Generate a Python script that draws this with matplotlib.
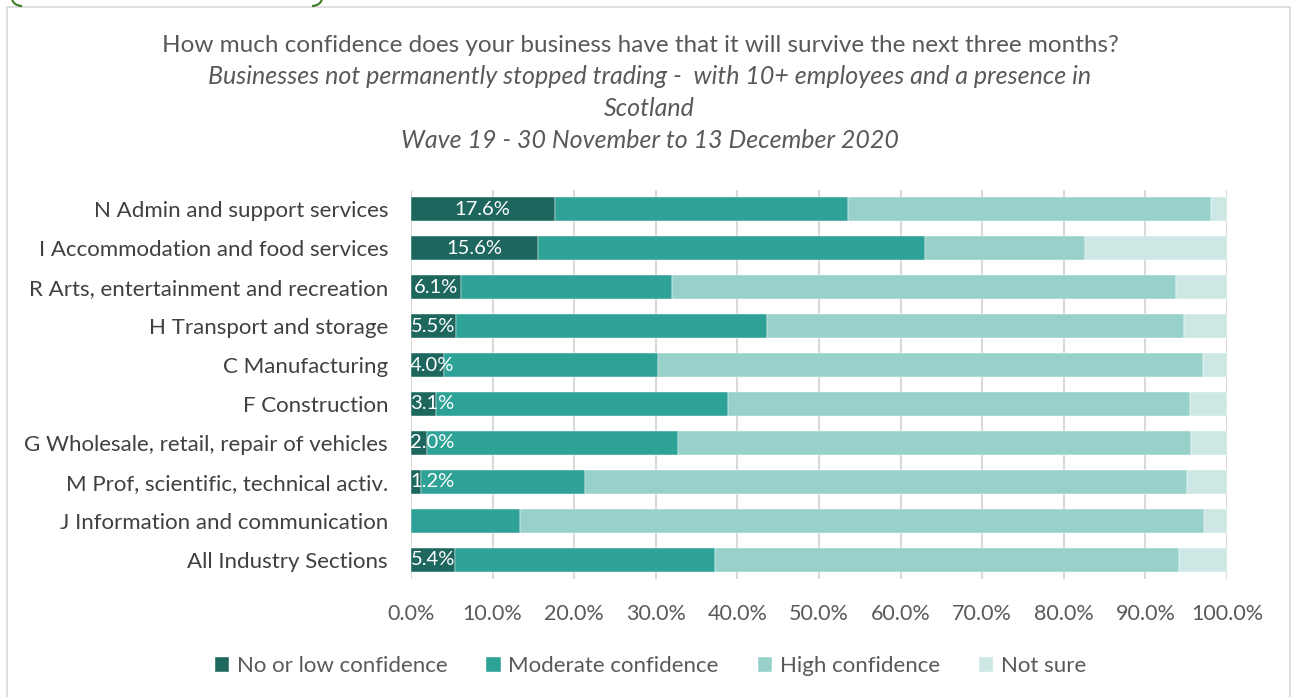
import matplotlib
matplotlib.use("Agg")
import matplotlib.pyplot as plt
from matplotlib.patches import Rectangle, Arc
import numpy as np

categories = [
    "N Admin and support services",
    "I Accommodation and food services",
    "R Arts, entertainment and recreation",
    "H Transport and storage",
    "C Manufacturing",
    "F Construction",
    "G Wholesale, retail, repair of vehicles",
    "M Prof, scientific, technical activ.",
    "J Information and communication",
    "All Industry Sections",
]
series_names = ["No or low confidence", "Moderate confidence", "High confidence", "Not sure"]
no_low   = [17.6, 15.6, 6.1, 5.5, 4.0, 3.1, 2.0, 1.2, 0.0, 5.4]
moderate = [35.9, 47.4, 25.9, 38.1, 26.3, 35.7, 30.7, 20.1, 13.4, 31.8]
high     = [44.5, 19.6, 61.8, 51.1, 66.8, 56.7, 62.9, 73.8, 83.8, 56.9]
not_sure = [2.0, 17.4, 6.2, 5.3, 2.9, 4.5, 4.4, 4.9, 2.8, 5.9]
xticks = [0, 10, 20, 30, 40, 50, 60, 70, 80, 90, 100]

colors = ["#1d675e", "#2ea297", "#97d1ca", "#cde8e4"]
FONT = "Lato"
plt.rcParams['font.family'] = [FONT, 'DejaVu Sans']

fig = plt.figure(figsize=(12.92, 6.97), dpi=100)
ax = fig.add_axes([0.3181, 0.1686, 0.6316, 0.5595])

n = len(categories)
y = np.arange(n)
data = [no_low, moderate, high, not_sure]
left = np.zeros(n)
bars = []
for vals, c, name in zip(data, colors, series_names):
    b = ax.barh(y, vals, left=left, height=0.615, color=c, label=name,
                edgecolor="white", linewidth=0.3, zorder=3)
    bars.append(b)
    left = left + np.array(vals)

# labels for first series
for i, v in enumerate(no_low):
    if v > 0:
        ax.text(max(v / 2, 2.6), y[i], f"{v:.1f}%", ha="center", va="center",
                color="white", fontsize=14.5, zorder=4, clip_on=True)

ax.set_xlim(0, 100)
ax.set_ylim(n - 0.5, -0.5)
ax.set_xticks(xticks)
ax.set_xticklabels([f"{t:.1f}%" for t in xticks], fontsize=15.5, color="#595959")
ax.set_yticks(y)
ax.set_yticklabels(categories, fontsize=16, color="#404040")
ax.tick_params(axis="both", length=0)
ax.tick_params(axis="x", pad=18)
ax.tick_params(axis="y", pad=16.5)
ax.grid(axis="x", color="#d9d9d9", linewidth=1.5, zorder=0)
for s in ax.spines.values():
    s.set_visible(False)

# titles
fig.text(640.5 / 1292, 1 - 45 / 697, "How much confidence does your business have that it will survive the next three months?",
         ha="center", va="center", fontsize=17.5, color="#595959")
xi = 649.5 / 1292
fig.text(xi, 1 - 77 / 697, "Businesses not permanently stopped trading -  with 10+ employees and a presence in",
         ha="center", va="center", fontsize=18, color="#595959", style="italic")
fig.text(xi, 1 - 109 / 697, "Scotland",
         ha="center", va="center", fontsize=18, color="#595959", style="italic")
fig.text(xi, 1 - 141 / 697, "Wave 19 - 30 November to 13 December 2020",
         ha="center", va="center", fontsize=18, color="#595959", style="italic")

# legend
leg = fig.legend(handles=bars, labels=series_names, loc="center", bbox_to_anchor=(650.5 / 1292, 1 - 666 / 697),
                 ncol=4, frameon=False, fontsize=16, handlelength=0.65, handleheight=0.65,
                 columnspacing=1.75, handletextpad=0.35)
for t in leg.get_texts():
    t.set_color("#595959")

# chart border
fig.patches.append(Rectangle((7 / 1292, -0.01), (1290 - 7) / 1292, 1 - 7 / 697 + 0.01,
                             transform=fig.transFigure, fill=False, edgecolor="#d9d9d9",
                             linewidth=1.2))
# cropped green brackets at the top
fig.patches.append(Arc((22 / 1292, 1 + 2 / 697), 20 / 1292, 16 / 697, theta1=180, theta2=270,
                       transform=fig.transFigure, color="#3a7d22", linewidth=1.5))
fig.patches.append(Arc((312 / 1292, 1 + 2 / 697), 20 / 1292, 16 / 697, theta1=270, theta2=360,
                       transform=fig.transFigure, color="#3a7d22", linewidth=1.5))

fig.savefig("out.png", dpi=100)
